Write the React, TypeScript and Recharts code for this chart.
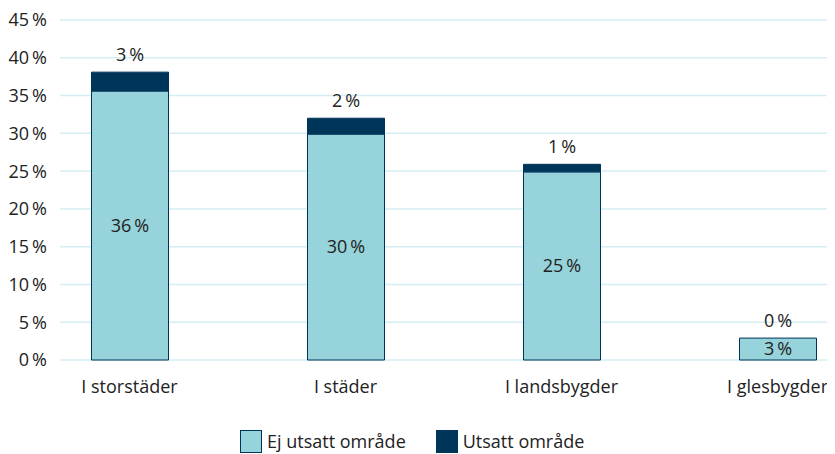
import React from 'react';
import { BarChart, Bar, XAxis, YAxis, CartesianGrid, LabelList } from 'recharts';

const categories = ['I storstäder', 'I städer', 'I landsbygder', 'I glesbygder'];
const ejUtsatt = [35.6, 29.9, 24.9, 2.9];
const utsatt = [2.5, 2.1, 1.0, 0.0];
const yTicks = [0, 5, 10, 15, 20, 25, 30, 35, 40, 45];

const LIGHT = '#96d3da';
const DARK = '#00355a';
const FONT = '"Open Sans", "Noto Sans", sans-serif';
const FS = 18;

const data = categories.map((name, i) => ({
  name,
  ej: ejUtsatt[i],
  ut: utsatt[i],
}));

const pct = (v: any) => `${Math.round(Number(v))}\u2009%`;

// label for the dark segment, drawn above the whole stack (also when the segment is 0)
const TopLabel = (props: any) => {
  const { x, y, width, height, index } = props;
  const ej = ejUtsatt[index];
  const ut = utsatt[index];
  const perUnit = ej ? height / ej : 0;
  const top = y - ut * perUnit;
  return (
    <text x={x + width / 2} y={top - 11} textAnchor="middle" fill="#222" fontSize={FS} fontFamily={FONT}>
      {pct(ut)}
    </text>
  );
};

const LegendBox = () => (
  <div style={{ position: 'absolute', left: 240, top: 428, display: 'flex', alignItems: 'center', fontFamily: FONT, fontSize: FS, color: '#222', lineHeight: '26px', whiteSpace: 'nowrap' }}>
    <span style={{ display: 'inline-block', width: 20, height: 21, background: LIGHT, border: `1px solid ${DARK}`, marginRight: 5 }} />
    <span style={{ marginRight: 30 }}>Ej utsatt område</span>
    <span style={{ display: 'inline-block', width: 22, height: 23, background: DARK, marginRight: 5 }} />
    <span>Utsatt område</span>
  </div>
);

const App = () => {
  return (
    <div style={{ marginTop: -8, marginLeft: -8, width: 835, height: 454, background: '#fff', position: 'relative' }}>
      <BarChart width={835} height={454} data={data} margin={{ top: 20, right: 0, bottom: 42, left: 0 }}>
        <CartesianGrid vertical={false} stroke="#d4eef3" strokeWidth={1.5} />
        <XAxis
          dataKey="name"
          axisLine={false}
          tickLine={false}
          padding={{ left: -38.5, right: -50.5 }}
          tick={{ fill: '#222', fontSize: FS, fontFamily: FONT }}
          tickMargin={14}
          height={52}
        />
        <YAxis
          domain={[0, 45]}
          ticks={yTicks}
          tickFormatter={(v: number) => `${v}\u2009%`}
          axisLine={false}
          tickLine={false}
          width={60}
          tick={{ fill: '#222', fontSize: FS, fontFamily: FONT }}
          tickMargin={7}
        />
        <Bar dataKey="ej" name="Ej utsatt område" stackId="a" fill={LIGHT} stroke={DARK} strokeWidth={1} barSize={77} isAnimationActive={false}>
          <LabelList dataKey="ej" position="center" formatter={pct} fill="#222" fontSize={FS} fontFamily={FONT} />
          <LabelList dataKey="ut" content={<TopLabel />} />
        </Bar>
        <Bar dataKey="ut" name="Utsatt område" stackId="a" fill={DARK} stroke={DARK} strokeWidth={1} barSize={77} isAnimationActive={false} />
      </BarChart>
      <LegendBox />
    </div>
  );
};

export default App;
